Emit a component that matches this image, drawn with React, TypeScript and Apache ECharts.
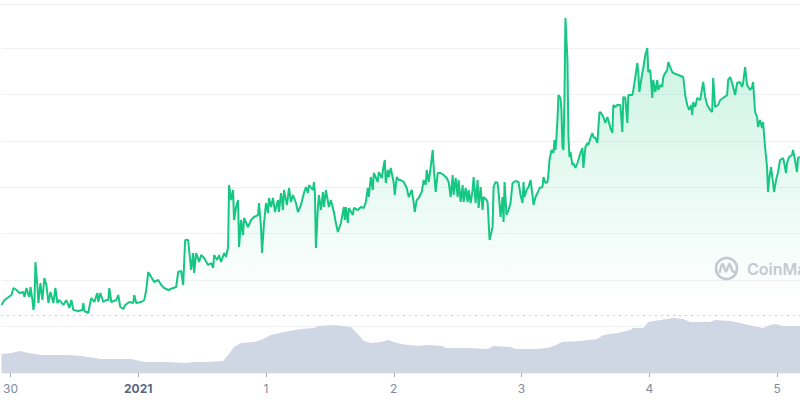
import React, { useEffect, useRef } from "react";
import * as echarts from "echarts";

// x unit: time slot (128 slots per day), slot 0 = Dec 30 00:00
const dayTicks = [0, 128, 256, 384, 512, 640, 768];
const dayLabels = ["30", "2021", "1", "2", "3", "4", "5"];

const priceT = [
  -9, -6, 1, 3, 6, 9, 13, 14, 16, 18, 19, 20, 22, 23, 24, 25, 27, 28, 30, 32, 34, 36, 38, 40, 43, 45, 47, 49, 53, 56,
  59, 61, 63, 68, 72, 73, 74, 78, 79, 81, 84, 87, 88, 90, 93, 96, 98, 99, 101, 106, 108, 110, 113, 115, 119, 123, 124,
  126, 131, 134, 136, 138, 141, 144, 148, 151, 154, 158, 163, 166, 168, 171, 173, 175, 178, 181, 183, 184, 186, 189,
  191, 194, 198, 201, 203, 204, 207, 209, 211, 214, 216, 218, 219, 221, 223, 224, 226, 228, 229, 231, 233, 234, 238,
  241, 244, 248, 249, 251, 252, 254, 256, 258, 259, 261, 263, 265, 268, 269, 271, 273, 274, 277, 279, 281, 283, 286,
  288, 291, 294, 296, 298, 299, 303, 304, 305, 306, 308, 309, 311, 313, 314, 316, 319, 321, 324, 326, 328, 331, 334,
  335, 336, 338, 339, 343, 344, 348, 351, 354, 356, 358, 359, 361, 363, 364, 368, 369, 372, 374, 375, 376, 378, 379,
  381, 384, 385, 387, 389, 391, 394, 397, 399, 402, 404, 405, 407, 409, 412, 414, 416, 417, 419, 421, 423, 424, 426,
  428, 431, 434, 437, 439, 441, 443, 444, 446, 448, 449, 451, 453, 454, 456, 458, 459, 461, 463, 464, 466, 468, 469,
  471, 473, 474, 477, 478, 480, 483, 484, 486, 488, 489, 491, 493, 494, 495, 497, 499, 501, 503, 506, 509, 511, 513,
  514, 515, 517, 519, 521, 523, 524, 526, 528, 530, 533, 534, 536, 538, 539, 540, 542, 544, 545, 546, 547, 548, 549,
  551, 552, 553, 554, 555, 556, 558, 559, 560, 561, 563, 564, 566, 568, 569, 571, 573, 574, 576, 578, 579, 581, 583,
  584, 586, 588, 590, 591, 594, 596, 598, 599, 601, 603, 604, 606, 608, 611, 613, 614, 616, 618, 619, 623, 624, 626,
  628, 629, 630, 633, 634, 636, 638, 639, 641, 643, 644, 646, 648, 649, 651, 653, 654, 656, 658, 659, 661, 663, 664,
  669, 674, 676, 678, 680, 682, 683, 684, 686, 688, 691, 694, 696, 698, 701, 703, 704, 706, 709, 711, 714, 718, 719,
  721, 723, 724, 726, 728, 731, 733, 734, 736, 738, 741, 743, 744, 746, 748, 749, 751, 753, 754, 756, 758, 759, 760,
  762, 764, 765, 767, 769, 771, 774, 775, 777, 778, 780, 783, 784, 786, 788, 789, 791,
];
const priceV = [
  68, 73, 78, 85, 83, 80, 81, 76, 85, 78, 76, 86, 73, 63, 70, 111, 86, 70, 90, 73, 95, 88, 70, 81, 70, 85, 70, 73, 68, 73,
  65, 73, 63, 62, 63, 70, 62, 60, 66, 75, 71, 80, 71, 80, 71, 73, 73, 85, 71, 73, 78, 66, 64, 68, 71, 70, 78,
  70, 71, 73, 83, 101, 96, 91, 93, 88, 85, 83, 85, 86, 101, 102, 88, 133, 133, 103, 120, 100, 120, 111,
  118, 115, 108, 110, 105, 118, 113, 118, 111, 120, 116, 126, 188, 173, 183, 153, 166, 173, 126, 153, 138, 155, 146,
  153, 156, 158, 170, 146, 120, 150, 170, 160, 175, 166, 175, 161, 173, 161, 180, 163, 183, 168, 185, 171, 178, 170,
  161, 168, 180, 186, 180, 188, 183, 191, 180, 125, 166, 178, 163, 181, 166, 183, 166, 173, 161, 150, 141, 150, 166,
  153, 166, 150, 165, 158, 165, 163, 166, 165, 171, 185, 176, 196, 183, 200, 191, 201, 195, 208, 213, 190, 203, 196,
  205, 190, 178, 196, 193, 193, 191, 185, 176, 183, 170, 161, 173, 175, 181, 193, 188, 203, 191, 206, 223, 206, 181,
  200, 200, 198, 195, 191, 176, 198, 178, 195, 176, 193, 171, 188, 171, 185, 171, 183, 170, 183, 196, 170, 193, 165,
  186, 163, 176, 173, 171, 133, 146, 186, 191, 190, 181, 156, 176, 151, 191, 158, 163, 170, 190, 192, 191, 178,
  170, 191, 176, 183, 186, 193, 178, 168, 176, 180, 185, 186, 196, 190, 191, 200, 213, 223, 220, 233, 223, 236, 253, 278,
  275, 263, 226, 223, 273, 355, 313, 236, 216, 221, 208, 210, 205, 210, 213, 220, 225, 205, 226, 230, 228, 235, 240,
  236, 235, 230, 260, 261, 256, 250, 256, 253, 245, 240, 268, 266, 268, 268, 241, 276, 275, 250, 278, 278, 283, 296,
  310, 301, 281, 300, 305, 318, 325, 301, 303, 275, 293, 281, 293, 283, 288, 286, 296, 300, 303, 311, 306, 301, 300,
  298, 296, 278, 268, 263, 268, 258, 271, 266, 275, 273, 291, 276, 268, 263, 261, 295, 266, 268, 273, 275, 278, 293,
  296, 290, 286, 278, 290, 291, 286, 290, 306, 288, 283, 286, 291, 261, 256, 246, 253, 245, 251, 226, 206, 181, 193,
  206, 190, 181, 193, 201, 213, 215, 211, 200, 210, 216, 218, 223, 213, 201, 215, 216,
];

const volumeT = [
  -9, 1, 9, 18, 31, 46, 58, 71, 91, 108, 121, 134, 148, 158, 174, 184, 198, 213, 218, 224, 231, 244, 251, 261, 274, 291,
  304, 308, 324, 341, 346, 354, 361, 371, 378, 384, 391, 408, 418, 433, 436, 458, 478, 484, 501, 506, 524, 538, 544, 553,
  571, 588, 594, 608, 621, 624, 634, 639, 651, 664, 674, 681, 701, 706, 721, 731, 744, 754, 761, 766, 774, 791,
];
const volumeV = [
  19, 20, 22, 20, 18, 18, 18, 17, 14, 14, 14, 11, 11, 11, 10, 11, 11, 12, 18, 26, 30, 31, 33, 38, 41, 44,
  45, 47, 48, 46, 41, 32, 30, 31, 33, 31, 29, 27, 28, 27, 25, 25, 24, 27, 26, 24, 24, 25, 27, 31,
  32, 34, 38, 40, 43, 45, 45, 51, 53, 55, 54, 51, 51, 53, 52, 50, 47, 45, 48, 49, 47, 47,
];

const referencePrice = 58;

export default function App() {
  const ref = useRef<HTMLDivElement>(null);
  useEffect(() => {
    const chart = echarts.init(ref.current!, null, { renderer: "svg" });
    chart.setOption({
      animation: false,
      backgroundColor: "#ffffff",
      grid: { left: 0, right: 0, top: 4, bottom: 27 },
      xAxis: {
        type: "value",
        min: -9,
        max: 791,
        axisLine: { show: false },
        splitLine: { show: false },
        axisTick: { show: true, length: 4, lineStyle: { color: "#a6b0c3" }, customValues: dayTicks },
        axisLabel: {
          customValues: dayTicks,
          formatter: (v: number) => {
            const i = dayTicks.indexOf(v);
            const s = dayLabels[i] ?? "";
            return i === 1 ? `{b|${s}}` : s;
          },
          color: "#808a9d",
          fontSize: 12,
          fontFamily: "Inter",
          margin: 9,
          rich: { b: { fontWeight: "bold", color: "#58667e", fontSize: 12, fontFamily: "Inter" } },
        },
      },
      yAxis: [
        {
          type: "value",
          min: 0,
          max: 369,
          interval: 46.44,
          axisLabel: { show: false },
          axisLine: { show: false },
          axisTick: { show: false },
          splitLine: { lineStyle: { color: "#eff2f5", width: 1 } },
        },
        { type: "value", min: 0, max: 369, show: false, splitLine: { show: false } },
      ],
      series: [
        {
          type: "line",
          data: priceT.map((t, i) => [t, priceV[i]]),
          symbol: "none",
          showSymbol: false,
          lineStyle: { color: "#16c784", width: 2 },
          itemStyle: { color: "#16c784" },
          areaStyle: {
            color: new echarts.graphic.LinearGradient(0, 0, 0, 1, [
              { offset: 0, color: "rgba(22,199,132,0.34)" },
              { offset: 0.8, color: "rgba(22,199,132,0)" },
              { offset: 1, color: "rgba(22,199,132,0)" },
            ]),
          },
          markLine: {
            symbol: "none",
            silent: true,
            label: { show: false },
            lineStyle: { type: [1, 5], color: "#8f96a8", width: 1 },
            data: [{ yAxis: referencePrice }],
          },
          z: 2,
        },
        {
          type: "line",
          yAxisIndex: 1,
          data: volumeT.map((t, i) => [t, volumeV[i]]),
          symbol: "none",
          showSymbol: false,
          lineStyle: { width: 0, color: "#cfd6e4" },
          areaStyle: { color: "#cfd6e4", opacity: 1 },
          z: 3,
        },
      ],
      graphic: [
        {
          type: "circle",
          shape: { cx: 726.5, cy: 268.5, r: 10.5 },
          style: { fill: "none", stroke: "#c4c9d1", lineWidth: 2.6 },
          z: 10,
        },
        {
          type: "polyline",
          shape: {
            points: [
              [719.5, 273],
              [722.5, 264],
              [726, 271.5],
              [729.5, 264],
              [732.5, 271],
              [735.5, 272.5],
            ],
            smooth: 0.3,
          },
          style: { fill: "none", stroke: "#c4c9d1", lineWidth: 2.4 },
          z: 10,
        },
        {
          type: "text",
          x: 747,
          y: 268.5,
          style: {
            text: "CoinMarketCap",
            fill: "#c4c9d1",
            fontSize: 16,
            fontWeight: 600,
            fontFamily: "Inter",
            verticalAlign: "middle",
            align: "left",
          },
          z: 10,
        },
      ],
    });
    return () => chart.dispose();
  }, []);
  return <div ref={ref} style={{ position: "fixed", left: 0, top: 0, width: 800, height: 400 }} />;
}
